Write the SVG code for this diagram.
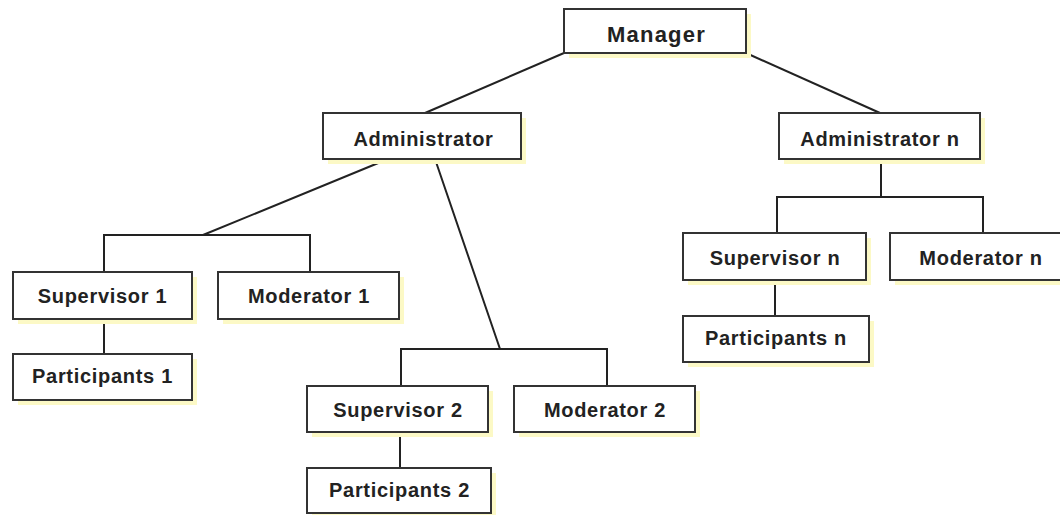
<svg xmlns="http://www.w3.org/2000/svg" width="1060" height="515" viewBox="0 0 1060 515">
<style>
.box{fill:#fff;stroke:#333;stroke-width:2}
.sh{fill:#fcf9c6}
.t{font-family:"Liberation Sans",Arial,sans-serif;font-weight:bold;font-size:20px;fill:#222;text-anchor:middle;letter-spacing:0.7px}
.big{font-size:22px;letter-spacing:1.2px}
.c{fill:none;stroke:#222;stroke-width:2}
</style>
<rect width="1060" height="515" fill="#fff"/>
<g id="connectors">
<path class="c" d="M564 53 L425 113"/>
<path class="c" d="M746 53 L880 113"/>
<path class="c" d="M388 159 L203 235 M104 272 V235 H310 V272"/>
<path class="c" d="M435 159 L500 349 M401 386 V349 H607 V386"/>
<path class="c" d="M881 159 V197 M777 233 V197 H983 V233"/>
<path class="c" d="M104 319 V354"/>
<path class="c" d="M400 432 V468"/>
<path class="c" d="M775 280 V316"/>
</g>
<g id="manager"><rect class="sh" x="569" y="14" width="182" height="44"/><rect class="box" x="564" y="9" width="182" height="44"/><text class="t big" x="656.5" y="41.5">Manager</text></g>
<g id="administrator"><rect class="sh" x="328" y="118" width="198" height="46"/><rect class="box" x="323" y="113" width="198" height="46"/><text class="t" x="423.5" y="146">Administrator</text></g>
<g id="administrator-n"><rect class="sh" x="784" y="118" width="201" height="46"/><rect class="box" x="779" y="113" width="201" height="46"/><text class="t" x="880" y="146">Administrator n</text></g>
<g id="supervisor-1"><rect class="sh" x="18" y="277" width="179" height="47"/><rect class="box" x="13" y="272" width="179" height="47"/><text class="t" x="102.5" y="303">Supervisor 1</text></g>
<g id="moderator-1"><rect class="sh" x="223" y="277" width="181" height="47"/><rect class="box" x="218" y="272" width="181" height="47"/><text class="t" x="309" y="303">Moderator 1</text></g>
<g id="participants-1"><rect class="sh" x="18" y="359" width="179" height="46"/><rect class="box" x="13" y="354" width="179" height="46"/><text class="t" x="102.5" y="383">Participants 1</text></g>
<g id="supervisor-2"><rect class="sh" x="312" y="391" width="181" height="46"/><rect class="box" x="307" y="386" width="181" height="46"/><text class="t" x="398" y="417">Supervisor 2</text></g>
<g id="moderator-2"><rect class="sh" x="519" y="391" width="181" height="46"/><rect class="box" x="514" y="386" width="181" height="46"/><text class="t" x="605" y="417">Moderator 2</text></g>
<g id="participants-2"><rect class="sh" x="312" y="473" width="184" height="45"/><rect class="box" x="307" y="468" width="184" height="45"/><text class="t" x="399.5" y="497">Participants 2</text></g>
<g id="supervisor-n"><rect class="sh" x="688" y="238" width="183" height="47"/><rect class="box" x="683" y="233" width="183" height="47"/><text class="t" x="775" y="265">Supervisor n</text></g>
<g id="moderator-n"><rect class="sh" x="895" y="238" width="170" height="47"/><rect class="box" x="890" y="233" width="175" height="47"/><text class="t" x="981" y="265">Moderator n</text></g>
<g id="participants-n"><rect class="sh" x="688" y="321" width="186" height="46"/><rect class="box" x="683" y="316" width="186" height="46"/><text class="t" x="776" y="345">Participants n</text></g>
</svg>
